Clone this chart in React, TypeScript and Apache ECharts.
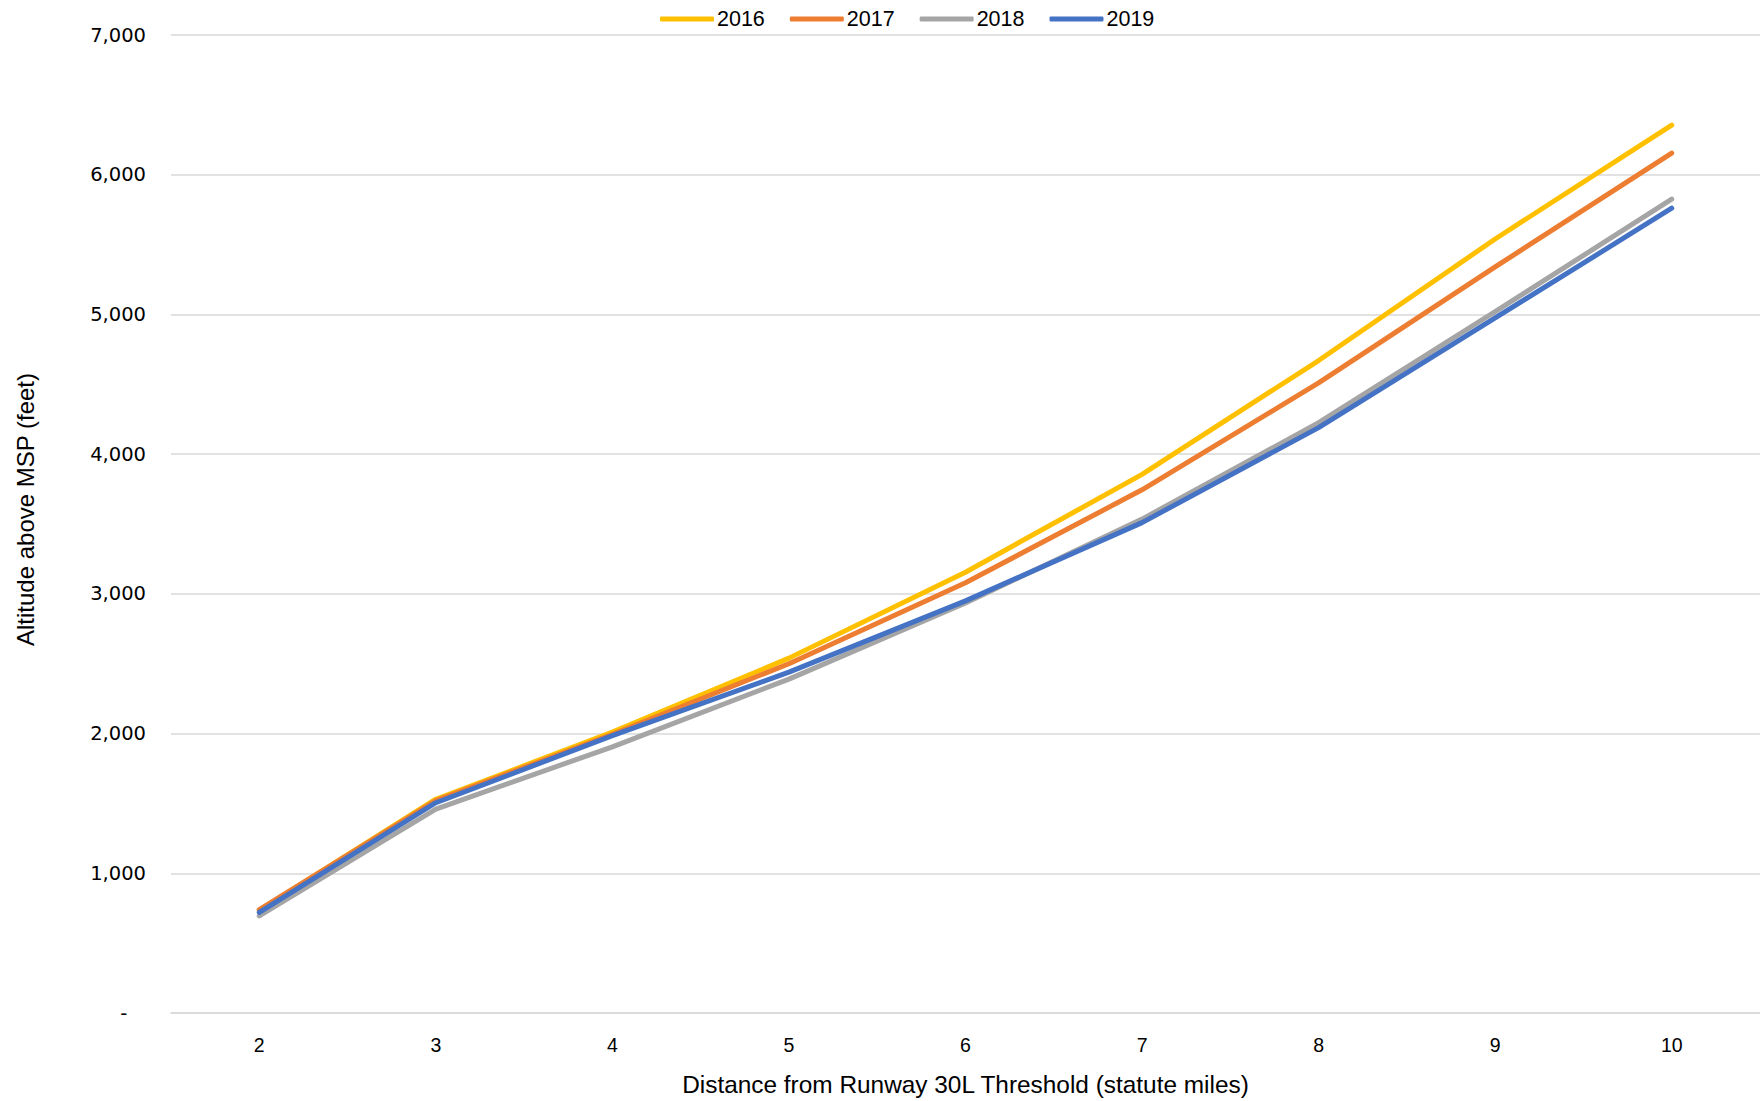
import React, { useEffect, useRef } from "react";
import * as echarts from "echarts";

const categories = ["2", "3", "4", "5", "6", "7", "8", "9", "10"];
const s2016 = [735, 1530, 2010, 2540, 3155, 3855, 4670, 5540, 6355];
const s2017 = [740, 1520, 1995, 2500, 3080, 3745, 4510, 5340, 6155];
const s2018 = [695, 1460, 1905, 2390, 2935, 3535, 4225, 5020, 5825];
const s2019 = [720, 1505, 1985, 2440, 2950, 3510, 4190, 4975, 5760];
const seriesNames = ["2016", "2017", "2018", "2019"];
const colors = ["#FFC000", "#ED7D31", "#A5A5A5", "#4472C4"];

export default function App() {
  const ref = useRef<HTMLDivElement>(null);
  useEffect(() => {
    const chart = echarts.init(ref.current!, null, { renderer: "svg" });
    const data = [s2016, s2017, s2018, s2019];
    chart.setOption({
      animation: false,
      backgroundColor: "#ffffff",
      legend: {
        top: 3,
        left: 655,
        icon: "roundRect",
        itemWidth: 54,
        itemHeight: 5,
        itemGap: 25,
        textStyle: { fontFamily: "Liberation Sans", fontSize: 21.5, color: "#000", padding: [0, 0, 0, -2] },
        data: seriesNames,
      },
      grid: { left: 171, right: 0, top: 35, bottom: 77, containLabel: false },
      xAxis: {
        type: "category",
        data: categories,
        boundaryGap: true,
        axisLine: { show: true, lineStyle: { color: "#D9D9D9", width: 1.5 } },
        axisTick: { show: false },
        axisLabel: { fontFamily: "Liberation Sans", fontSize: 19.5, color: "#000", margin: 22 },
        name: "Distance from Runway 30L Threshold (statute miles)",
        nameLocation: "middle",
        nameGap: 59,
        nameTextStyle: { fontFamily: "Liberation Sans", fontSize: 24.4, color: "#000" },
      },
      yAxis: {
        type: "value",
        min: 0,
        max: 7000,
        interval: 1000,
        axisLine: { show: false },
        axisTick: { show: false },
        splitLine: { lineStyle: { color: "#D9D9D9", width: 1.5 } },
        axisLabel: {
          fontFamily: "DejaVu Sans",
          fontSize: 19.5,
          color: "#000",
          margin: 25,
          formatter: (v: number) => (v === 0 ? "-   " : v.toLocaleString("en-US")),
        },
        name: "Altitude above MSP (feet)",
        nameLocation: "middle",
        nameGap: 134,
        nameRotate: 90,
        nameTextStyle: { fontFamily: "Liberation Sans", fontSize: 24, color: "#000", padding: [0, 0, 0, 29] },
      },
      series: seriesNames.map((n, i) => ({
        name: n,
        type: "line",
        data: data[i],
        symbol: "none",
        smooth: false,
        color: colors[i],
        lineStyle: { width: 5, color: colors[i], cap: "round", join: "round" },
      })),
    });
    return () => chart.dispose();
  }, []);
  return (
    <div
      ref={ref}
      style={{ position: "fixed", left: 0, top: 0, width: 1760, height: 1101, background: "#fff" }}
    />
  );
}
